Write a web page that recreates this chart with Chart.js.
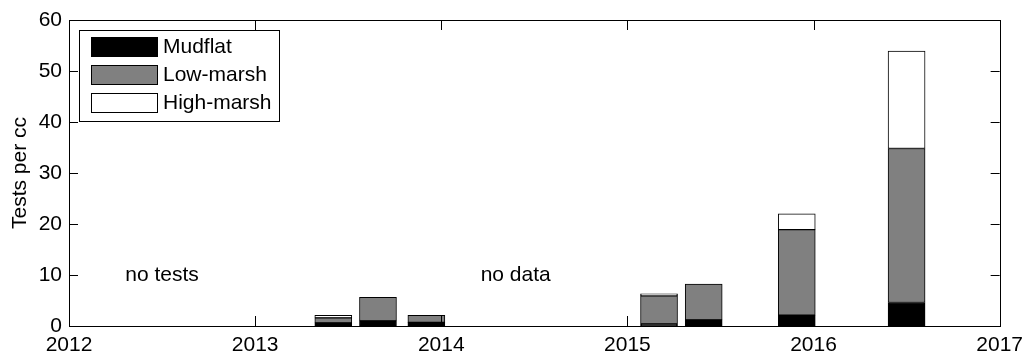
<!DOCTYPE html>
<html>
<head>
<meta charset="utf-8">
<script src="https://cdn.jsdelivr.net/npm/chart.js@4/dist/chart.umd.min.js"></script>
<style>
  html, body { margin: 0; padding: 0; background: #fff; }
  #wrap { width: 1030px; height: 361px; }
</style>
</head>
<body>
<div id="wrap"><canvas id="c" width="1030" height="361"></canvas></div>
<script>
// Sampling dates (decimal years) and test densities per habitat
const sampleDates = [2013.42, 2013.66, 2013.92, 2015.17, 2015.41, 2015.91, 2016.50];
const mudflat     = [0.6, 1.0, 0.7, 0.4, 1.2, 2.1, 4.6];
const lowMarsh    = [1.0, 4.6, 1.4, 5.5, 7.0, 16.8, 30.2];
const highMarsh   = [0.5, 0.0, 0.0, 0.4, 0.0, 3.1, 19.1];

const yearTicks = [2012, 2013, 2014, 2015, 2016, 2017];
const yTicks = [0, 10, 20, 30, 40, 50, 60];

const notes = [
  { text: 'no tests', x: 2012.5, y: 10 },
  { text: 'no data',  x: 2014.4, y: 10 }
];

const FONT = "'Liberation Sans', Arial, sans-serif";

function pts(vals) {
  return sampleDates.map((d, i) => ({ x: d, y: vals[i] }));
}

const series = [
  { label: 'Mudflat',    data: pts(mudflat),   color: '#000000' },
  { label: 'Low-marsh',  data: pts(lowMarsh),  color: '#808080' },
  { label: 'High-marsh', data: pts(highMarsh), color: '#ffffff' }
];

// Box frame with inward tick marks on all four sides
const framePlugin = {
  id: 'frame',
  afterDatasetsDraw(chart) {
    const { ctx, chartArea: a, scales: { x, y } } = chart;
    ctx.save();
    ctx.strokeStyle = '#000';
    ctx.lineWidth = 1;
    ctx.beginPath();
    yearTicks.forEach(v => {
      const px = Math.round(x.getPixelForValue(v)) + 0.5;
      ctx.moveTo(px, a.bottom); ctx.lineTo(px, a.bottom - 10);
      ctx.moveTo(px, a.top);    ctx.lineTo(px, a.top + 10);
    });
    yTicks.forEach(v => {
      const py = Math.round(y.getPixelForValue(v)) + 0.5;
      ctx.moveTo(a.left, py);  ctx.lineTo(a.left + 9, py);
      ctx.moveTo(a.right, py); ctx.lineTo(a.right - 9, py);
    });
    ctx.stroke();
    ctx.strokeRect(Math.round(a.left) + 0.5, Math.round(a.top) + 0.5,
                   Math.round(a.right - a.left), Math.round(a.bottom - a.top));
    ctx.restore();
  },
  afterDraw(chart) {
    const { ctx, chartArea: a, scales: { x, y } } = chart;
    ctx.save();
    // annotations
    ctx.fillStyle = '#000';
    ctx.font = '21px ' + FONT;
    ctx.textAlign = 'center';
    ctx.textBaseline = 'middle';
    notes.forEach(n => ctx.fillText(n.text, x.getPixelForValue(n.x), y.getPixelForValue(n.y)));

    // y axis title
    ctx.save();
    ctx.translate(20, (a.top + a.bottom) / 2);
    ctx.rotate(-Math.PI / 2);
    ctx.font = '21px ' + FONT;
    ctx.fillText('Tests per cc', 0, 0);
    ctx.restore();

    // legend box
    const lx = 79.5, ly = 30.5, lw = 200, lh = 91;
    ctx.fillStyle = '#fff';
    ctx.fillRect(lx, ly, lw, lh);
    ctx.strokeStyle = '#000';
    ctx.lineWidth = 1;
    ctx.strokeRect(lx, ly, lw, lh);
    ctx.font = '21px ' + FONT;
    ctx.textAlign = 'left';
    ctx.textBaseline = 'middle';
    series.forEach((s, i) => {
      const sy = 37.5 + i * 28;
      ctx.fillStyle = s.color;
      ctx.fillRect(91.5, sy, 66, 19);
      ctx.strokeRect(91.5, sy, 66, 19);
      ctx.fillStyle = '#000';
      ctx.fillText(s.label, 163, sy + 10);
    });
    ctx.restore();
  }
};

new Chart(document.getElementById('c'), {
  type: 'bar',
  data: {
    datasets: series.map(s => ({
      label: s.label,
      data: s.data,
      backgroundColor: s.color,
      borderColor: '#000',
      borderWidth: 1,
      borderSkipped: false,
      barThickness: 37
    }))
  },
  options: {
    responsive: false,
    animation: false,
    devicePixelRatio: 1,
    layout: { padding: { left: 0, right: 29, top: 20, bottom: 0 } },
    plugins: { legend: { display: false }, tooltip: { enabled: false } },
    scales: {
      x: {
        type: 'linear',
        stacked: true,
        offset: false,
        min: 2012, max: 2017,
        afterBuildTicks: s => { s.ticks = yearTicks.map(v => ({ value: v })); },
        afterFit: s => { s.height = 35; },
        grid: { display: false, drawTicks: false },
        border: { display: false },
        ticks: { color: '#000', font: { family: FONT, size: 21 }, padding: 7, maxRotation: 0,
                 callback: v => String(v) }
      },
      y: {
        stacked: true,
        min: 0, max: 60,
        afterBuildTicks: s => { s.ticks = yTicks.map(v => ({ value: v })); },
        afterFit: s => { s.width = 69; },
        grid: { display: false, drawTicks: false },
        border: { display: false },
        ticks: { color: '#000', font: { family: FONT, size: 21 }, padding: 7,
                 callback: v => String(v) }
      }
    }
  },
  plugins: [framePlugin]
});
</script>
</body>
</html>
